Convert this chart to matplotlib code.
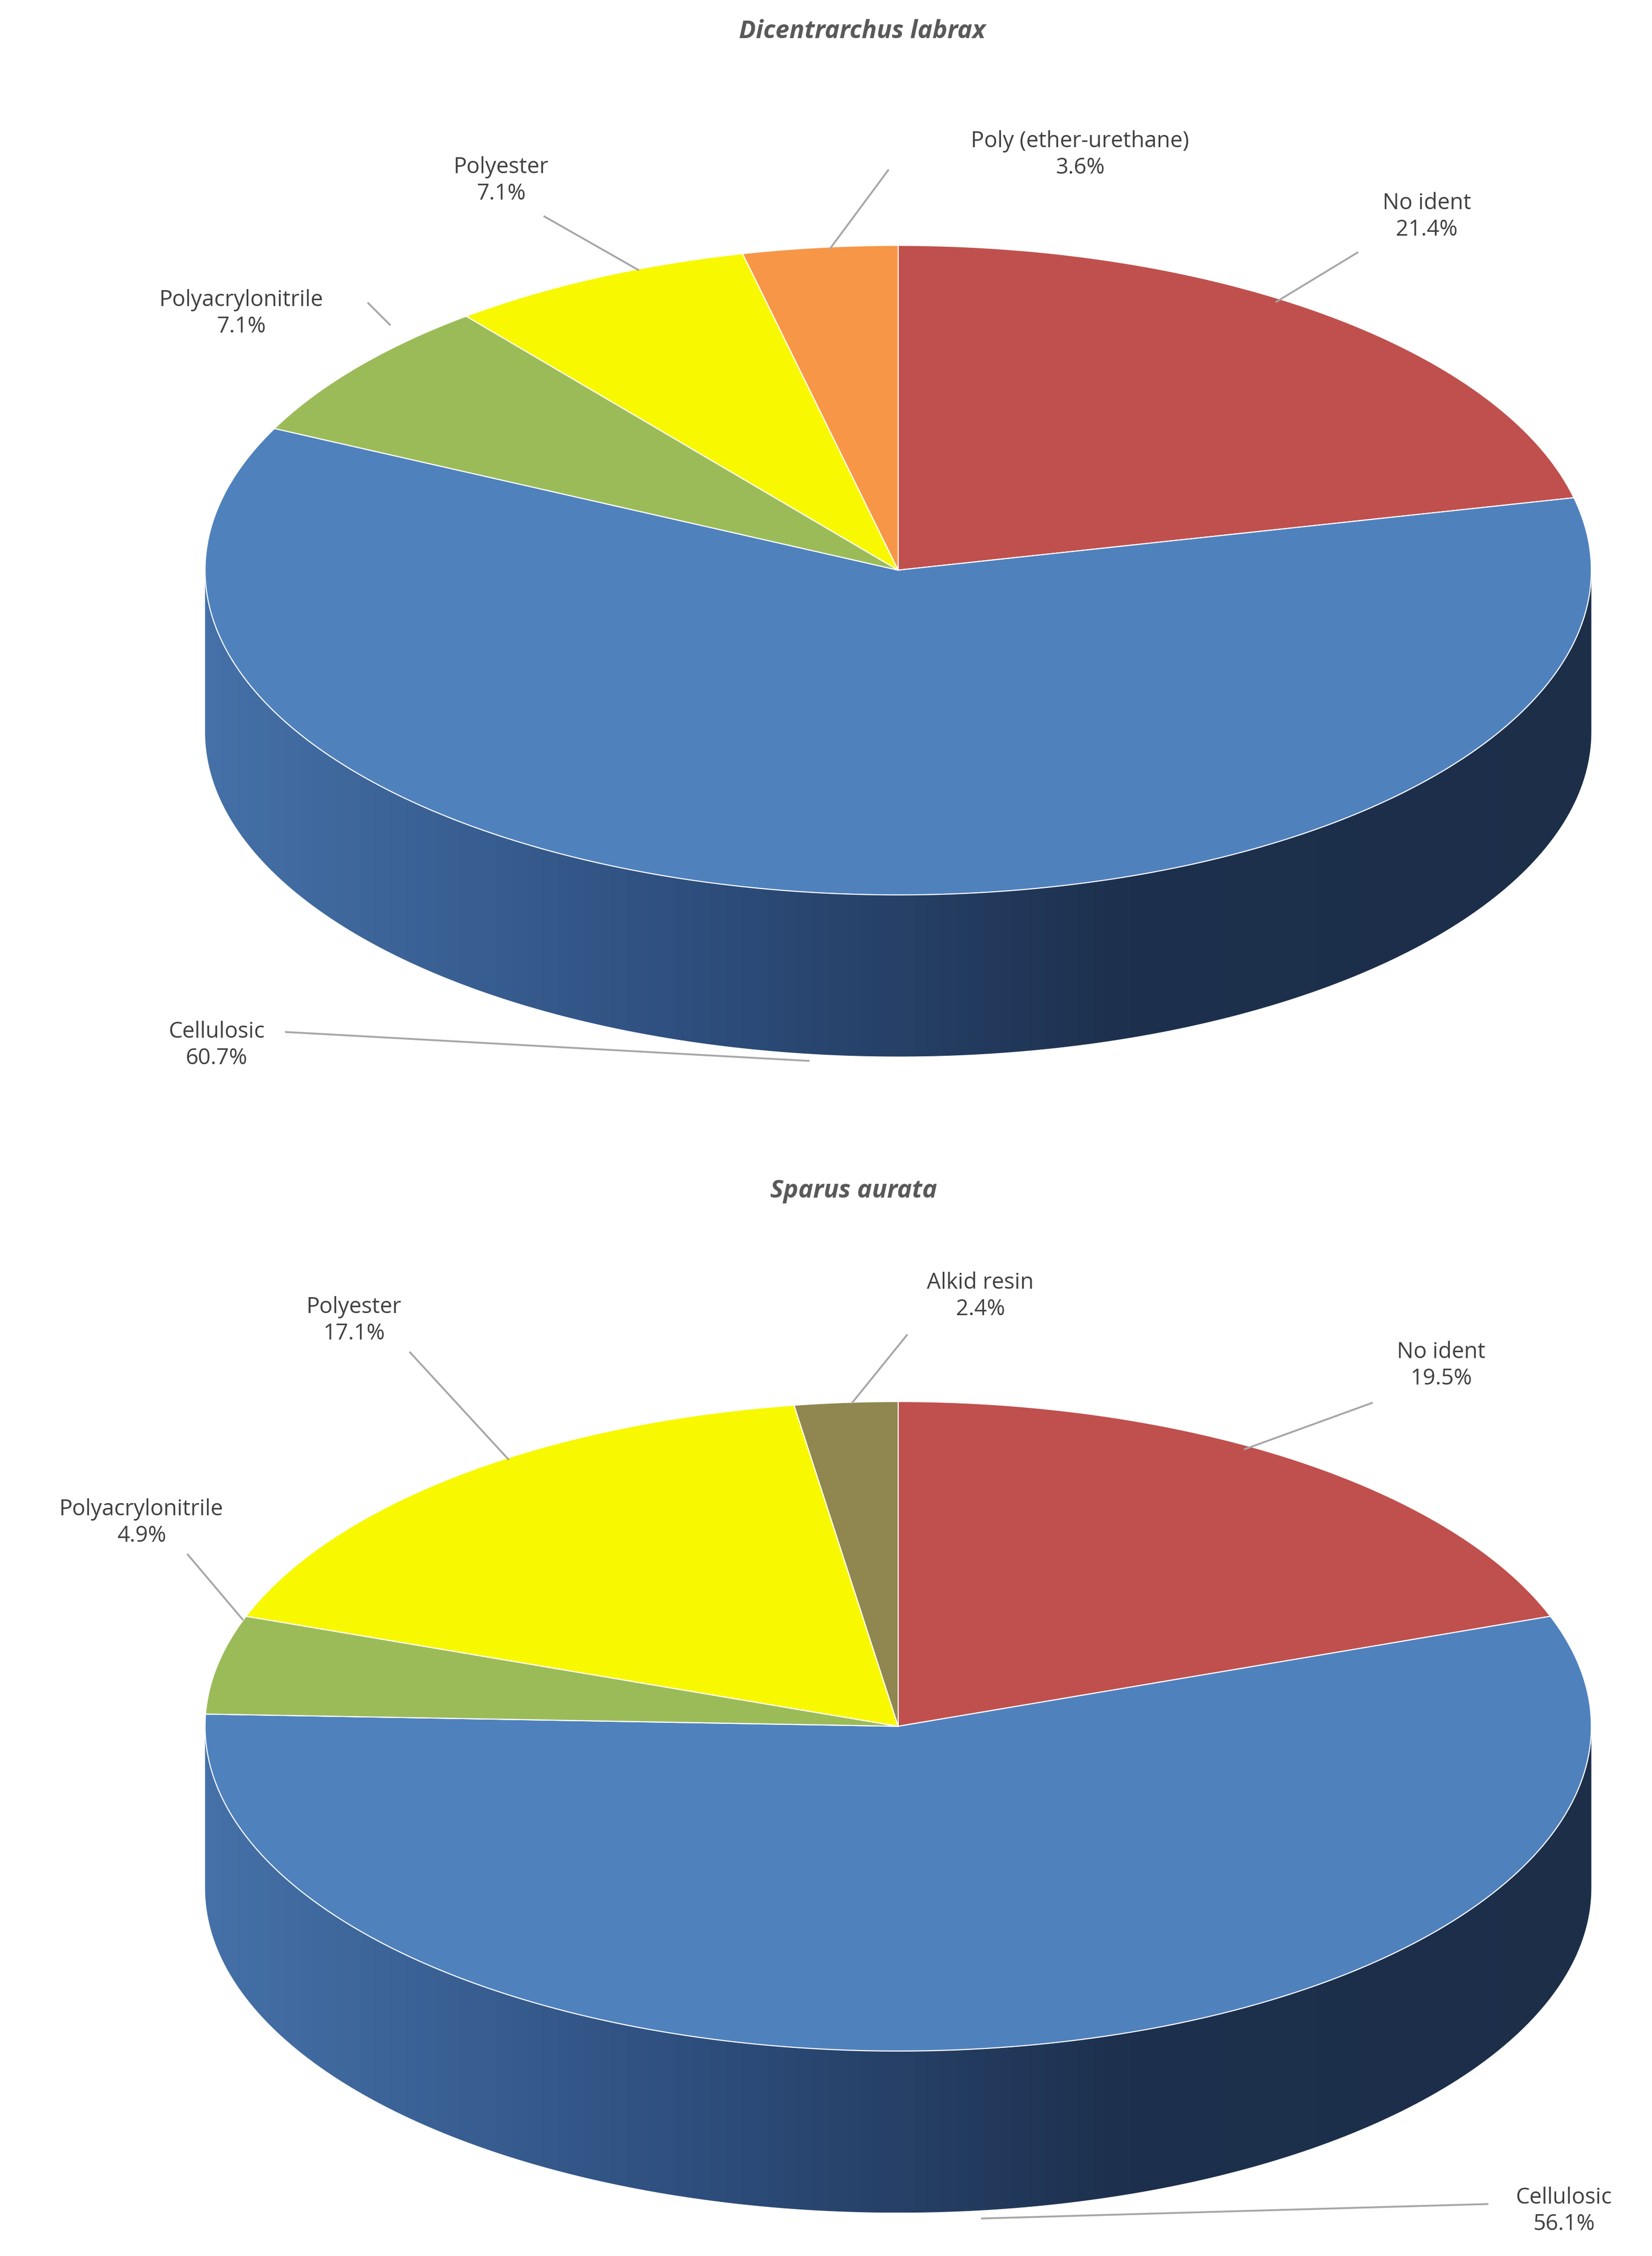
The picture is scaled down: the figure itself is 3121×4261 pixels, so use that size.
import numpy as np
import matplotlib
matplotlib.use('Agg')
import matplotlib.pyplot as plt
from matplotlib.patches import Polygon
from matplotlib.colors import LinearSegmentedColormap

plt.rcParams['font.family'] = ['Open Sans', 'DejaVu Sans']

# data
labels_top = ['No ident', 'Cellulosic', 'Polyacrylonitrile', 'Polyester', 'Poly (ether-urethane)']
values_top = [21.4, 60.7, 7.1, 7.1, 3.6]
colors_top = ['#c0504d', '#4f81bd', '#9bbb59', '#f8f800', '#f79646']

labels_bot = ['No ident', 'Cellulosic', 'Polyacrylonitrile', 'Polyester', 'Alkid resin']
values_bot = [19.5, 56.1, 4.9, 17.1, 2.4]
colors_bot = ['#c0504d', '#4f81bd', '#9bbb59', '#f8f800', '#8f8650']

W, H = 1144, 1563
fig = plt.figure(figsize=(31.21, 42.61), dpi=100)
ax = fig.add_axes([0, 0, 1, 1])
ax.set_xlim(0, W)
ax.set_ylim(H, 0)
ax.axis('off')

side_cmap = LinearSegmentedColormap.from_list('side', ['#4571a8', '#2f5080', '#1d304d', '#1c2e48'])


def pt(cx, cy, rx, ry, t):
    # t in degrees, clockwise from 12 o'clock
    r = np.radians(t)
    return cx + rx * np.sin(r), cy - ry * np.cos(r)


def pie3d(cx, cy, rx, ry, depth, values, colors):
    # side wall (front half)
    t = np.linspace(90, 270, 200)
    xs, ys = pt(cx, cy, rx, ry, t)
    side = np.column_stack([np.r_[xs, xs[::-1]], np.r_[ys, ys[::-1] + depth]])
    poly = Polygon(side, closed=True, facecolor='none', edgecolor='none')
    ax.add_patch(poly)
    grad = np.linspace(0, 1, 256)[None, :]
    im = ax.imshow(grad, cmap=side_cmap, extent=[cx - rx, cx + rx, cy + ry + depth, cy - 5],
                   aspect='auto', zorder=1)
    im.set_clip_path(poly)
    ax.set_xlim(0, W)
    ax.set_ylim(H, 0)
    # top face
    start = 0.0
    total = sum(values)
    for v, c in zip(values, colors):
        ext = 360 * v / total
        tt = np.linspace(start, start + ext, max(int(ext * 2), 4))
        xs, ys = pt(cx, cy, rx, ry, tt)
        pts = np.column_stack([np.r_[cx, xs], np.r_[cy, ys]])
        ax.add_patch(Polygon(pts, closed=True, facecolor=c, edgecolor='white', linewidth=1.5, zorder=2))
        start += ext


def label(x, y, name, val, lx, ly):
    ax.text(x, y, f'{name}\n{val:.1f}%', ha='center', va='center', fontsize=30,
            color='#404040', linespacing=1.25, zorder=4)
    ax.plot(lx, ly, color='#a6a6a6', linewidth=2.5, zorder=3)


title_kw = dict(ha='center', va='center', fontsize=34, fontweight='bold', fontstyle='italic', color='#595959')

ax.text(597, 22, 'Dicentrarchus labrax', **title_kw)
pie3d(622, 395, 480, 225, 112, values_top, colors_top)
label(988, 150, labels_top[0], values_top[0], [940, 884], [175, 209])
label(150, 724, labels_top[1], values_top[1], [198, 560], [715, 735])
label(167, 217, labels_top[2], values_top[2], [255, 270], [210, 225])
label(347, 125, labels_top[3], values_top[3], [377, 442], [150, 187])
label(748, 107, labels_top[4], values_top[4], [615, 575], [118, 172])

ax.text(591, 825, 'Sparus aurata', **title_kw)
pie3d(622, 1196, 480, 225, 112, values_bot, colors_bot)
label(998, 946, labels_bot[0], values_bot[0], [950, 862], [972, 1004])
label(1083, 1532, labels_bot[1], values_bot[1], [1030, 680], [1527, 1537])
label(98, 1055, labels_bot[2], values_bot[2], [130, 168], [1077, 1122])
label(245, 915, labels_bot[3], values_bot[3], [284, 352], [937, 1011])
label(679, 898, labels_bot[4], values_bot[4], [628, 590], [925, 972])

fig.savefig('out.png', dpi=100, facecolor='white')
